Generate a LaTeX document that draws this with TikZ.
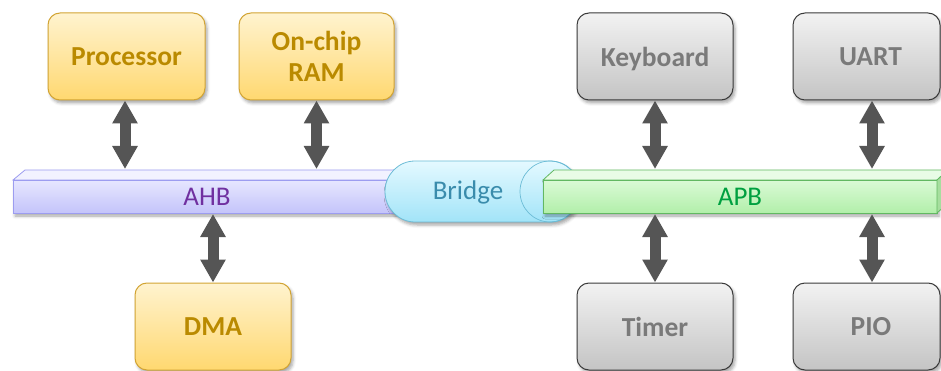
\documentclass[tikz,border=0pt]{standalone}
\usepackage{fontspec}
\setmainfont{Carlito}
\usetikzlibrary{arrows.meta,shadows.blur}

\definecolor{orTop}{HTML}{FFF3CF}
\definecolor{orBot}{HTML}{FFD870}
\definecolor{orLine}{HTML}{D2A434}
\definecolor{orText}{HTML}{BA8A00}
\definecolor{grTop}{HTML}{F2F2F2}
\definecolor{grBot}{HTML}{C4C4C4}
\definecolor{grLine}{HTML}{3A3A3A}
\definecolor{grText}{HTML}{7A7A7A}
\definecolor{arrowgray}{HTML}{555555}
\definecolor{ahbTop}{HTML}{F2F2FF}
\definecolor{ahbFrontTop}{HTML}{E6E6FF}
\definecolor{ahbFrontBot}{HTML}{C4C4FA}
\definecolor{ahbLine}{HTML}{9C9CF0}
\definecolor{ahbText}{HTML}{7030A0}
\definecolor{apbTop}{HTML}{E8FCE6}
\definecolor{apbFrontTop}{HTML}{DAFAD6}
\definecolor{apbFrontBot}{HTML}{B2EFAA}
\definecolor{apbSide}{HTML}{A6DE9E}
\definecolor{apbLine}{HTML}{62B862}
\definecolor{apbText}{HTML}{00A040}
\definecolor{brTop}{HTML}{E4F9FF}
\definecolor{brBot}{HTML}{A2E4F8}
\definecolor{brLine}{HTML}{6CBCD6}
\definecolor{brText}{HTML}{3A8CAC}

\tikzset{
  softshadow/.style={blur shadow={shadow xshift=2pt,shadow yshift=-3pt,
      shadow blur radius=3pt,shadow opacity=35}},
  unit/.style={rounded corners=12pt, minimum height=87pt, inner sep=0pt,
      line width=1pt, align=center, softshadow,
      font=\fontsize{27.5}{31}\selectfont\bfseries},
  master/.style={unit, draw=orLine, top color=orTop, bottom color=orBot, text=orText},
  periph/.style={unit, draw=grLine, top color=grTop, bottom color=grBot, text=grText},
  buslabel/.style={inner sep=0pt, font=\fontsize{27}{31}\selectfont},
  dblarrow/.style={line width=11pt, draw=arrowgray,
      {Triangle[width=24pt,length=23pt]}-{Triangle[width=24pt,length=23pt]}},
}

\begin{document}
\begin{tikzpicture}[x=1pt,y=-1pt]
\useasboundingbox (0,0) rectangle (941,371);

% AHB bus bar (front face + top face)
\path[softshadow, top color=ahbFrontTop, bottom color=ahbFrontBot]
  (13,180) rectangle (402,213);
\draw[ahbLine, line width=0.8pt] (13,180) rectangle (402,213);
\filldraw[fill=ahbTop, draw=ahbLine, line width=0.8pt]
  (13,180) -- (25,170) -- (414,170) -- (402,180) -- cycle;
\node[buslabel, text=ahbText] (ahb) at (207,197) {AHB};

% Bridge: a cylinder lying on its side
\path[softshadow, top color=brTop, bottom color=brBot, draw=brLine, line width=0.8pt]
  (415,161) -- (550,161)
  arc[start angle=-90, end angle=90, x radius=30, y radius=30.5]
  -- (415,222)
  arc[start angle=90, end angle=270, x radius=30, y radius=30.5]
  -- cycle;
\draw[brLine, line width=0.7pt] (550,191.5) ellipse[x radius=30, y radius=30.5];
\node[buslabel, text=brText] (bridge) at (468,192) {Bridge};

% APB bus bar (front, top and end faces)
\path[softshadow, top color=apbFrontTop, bottom color=apbFrontBot]
  (543,180) rectangle (937,213);
\draw[apbLine, line width=0.8pt] (543,180) rectangle (937,213);
\filldraw[fill=apbTop, draw=apbLine, line width=0.8pt]
  (543,180) -- (554,170) -- (948,170) -- (937,180) -- cycle;
\filldraw[fill=apbSide, draw=apbLine, line width=0.8pt]
  (937,180) -- (948,170) -- (948,203) -- (937,213) -- cycle;
\node[buslabel, text=apbText] (apb) at (740,197) {APB};

% bus contact lines
\coordinate (ahbup) at (0,169);
\coordinate (ahbdn) at (0,214);
\coordinate (apbup) at (0,169);
\coordinate (apbdn) at (0,214);

% AHB masters and memory
\node[master, minimum width=157pt] (proc) at (126.5,56.5) {Processor};
\node[master, minimum width=155pt] (ram)  at (316.5,56.5) {On-chip\\RAM};
\node[master, minimum width=156pt] (dma)  at (213,326.5) {DMA};

% APB peripherals
\node[periph, minimum width=156pt, text depth=0pt] (kbd) at (655,56.5) {Keyboard};
\node[periph, minimum width=147pt] (uart)  at (866.5,56.5) {\hspace*{8pt}UART};
\node[periph, minimum width=156pt] (timer) at (655,326.5) {Timer};
\node[periph, minimum width=147pt] (pio)   at (866.5,326.5) {\hspace*{9pt}PIO};

% bidirectional links
\draw[dblarrow] ([xshift=-1.5pt]proc.south) -- ([xshift=-1.5pt]proc.south |- ahbup);
\draw[dblarrow] (ram.south) -- (ram.south |- ahbup);
\draw[dblarrow] (dma.north) -- (dma.north |- ahbdn);
\draw[dblarrow] (kbd.south) -- (kbd.south |- apbup);
\draw[dblarrow] ([xshift=5.5pt]uart.south) -- ([xshift=5.5pt]uart.south |- apbup);
\draw[dblarrow] (timer.north) -- (timer.north |- apbdn);
\draw[dblarrow] ([xshift=5.5pt]pio.north) -- ([xshift=5.5pt]pio.north |- apbdn);
\end{tikzpicture}
\end{document}
